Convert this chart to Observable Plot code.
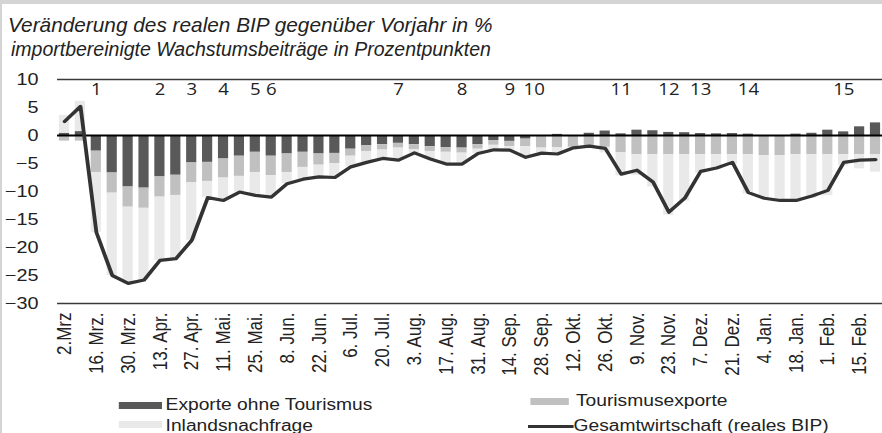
<!DOCTYPE html>
<html><head><meta charset="utf-8">
<script src="https://cdn.jsdelivr.net/npm/d3@7"></script>
<script src="https://cdn.jsdelivr.net/npm/@observablehq/plot@0.6"></script>
<style>
html,body{margin:0;padding:0;background:#fff;}
#wrap{position:relative;width:882px;height:433px;overflow:hidden;background:#fff;font-family:"Liberation Sans",Arial,sans-serif;color:#222;}
#frameTop{position:absolute;left:0;top:0;width:882px;height:4px;background:#d4d4d4}
#frameLeft{position:absolute;left:0;top:0;width:2px;height:433px;background:#d4d4d4}
#title{position:absolute;left:8px;top:13px;font-style:italic;line-height:24px;white-space:nowrap;}
#title .l1{font-size:20.8px}
#title .l2{font-size:19.5px;padding-left:3px}
#chart{position:absolute;left:0;top:66px;width:735px;transform:scaleX(1.2);transform-origin:0 0;}
#legend{position:absolute;left:0;top:0;width:735px;height:433px;transform:scaleX(1.2);transform-origin:0 0;font-size:16px;line-height:20px;pointer-events:none}
#legend div{position:absolute;white-space:nowrap}
</style>
</head><body>
<div id="wrap">
  <div id="frameTop"></div><div id="frameLeft"></div>
  <div id="title"><div class="l1">Veränderung des realen BIP gegenüber Vorjahr in %</div><div class="l2">importbereinigte Wachstumsbeiträge in Prozentpunkten</div></div>
  <div id="chart"></div>
  <div id="legend"></div>
</div>
<script>
const weeks = ["2.Mrz","9. Mrz.","16. Mrz.","23. Mrz.","30. Mrz.","6. Apr.","13. Apr.","20. Apr.","27. Apr.","4. Mai.","11. Mai.","18. Mai.","25. Mai.","1. Jun.","8. Jun.","15. Jun.","22. Jun.","29. Jun.","6. Jul.","13. Jul.","20. Jul.","27. Jul.","3. Aug.","10. Aug.","17. Aug.","24. Aug.","31. Aug.","7. Sep.","14. Sep.","21. Sep.","28. Sep.","5. Okt.","12. Okt.","19. Okt.","26. Okt.","2. Nov.","9. Nov.","16. Nov.","23. Nov.","30. Nov.","7. Dez.","14. Dez.","21. Dez.","28. Dez.","4. Jan.","11. Jan.","18. Jan.","25. Jan.","1. Feb.","8. Feb.","15. Feb.","22. Feb."];

const seriesNames = ["Exporte ohne Tourismus","Tourismusexporte","Inlandsnachfrage"];
const lineName = "Gesamtwirtschaft (reales BIP)";

const exporte = [0.4,0.7,-2.8,-6.7,-9.2,-9.4,-7.4,-7.1,-4.9,-4.8,-4.2,-3.7,-3.0,-3.7,-3.3,-3.0,-3.3,-3.2,-2.45,-1.85,-1.65,-1.4,-1.65,-2.0,-2.15,-2.25,-1.65,-0.95,-1.05,-0.65,0,0.2,0,0.4,0.8,0.3,0.95,0.85,0.55,0.5,0.35,0.3,0.35,0.25,0,0,0.25,0.4,0.95,0.65,1.55,2.25];
const tourismus = [-1.0,-1.0,-3.8,-3.6,-3.6,-3.6,-3.6,-3.6,-3.5,-3.4,-3.4,-3.6,-3.6,-3.5,-3.3,-2.7,-2.0,-1.8,-1.25,-1.0,-0.95,-0.85,-0.85,-0.85,-0.85,-0.9,-0.8,-0.8,-0.95,-1.35,-2.25,-2.15,-2.1,-2.1,-2.1,-3.1,-3.45,-3.45,-3.45,-3.45,-3.45,-3.45,-3.45,-3.45,-3.6,-3.6,-3.45,-3.45,-3.45,-3.45,-3.45,-3.45];
const inland = [3.2,5.4,-10.7,-14.7,-13.7,-12.8,-11.3,-11.3,-10.3,-2.9,-4.0,-2.8,-4.1,-3.8,-2.0,-2.1,-2.1,-2.5,-1.9,-1.95,-1.5,-2.15,-0.6,-1.35,-2.1,-1.95,-0.75,-0.8,-0.6,-1.9,-0.9,-1.35,-0.1,-0.2,-1.0,-4.1,-3.7,-5.75,-10.8,-8.25,-3.3,-2.65,-1.7,-7.0,-7.6,-8.0,-8.4,-7.75,-7.3,-2.0,-2.5,-3.1];
const gesamt = [2.5,5.2,-17.3,-25.0,-26.4,-25.8,-22.3,-22.0,-18.7,-11.1,-11.6,-10.1,-10.7,-11.0,-8.6,-7.8,-7.4,-7.5,-5.6,-4.8,-4.1,-4.4,-3.1,-4.2,-5.1,-5.1,-3.2,-2.55,-2.6,-3.9,-3.15,-3.3,-2.2,-1.9,-2.3,-6.9,-6.2,-8.3,-13.7,-11.2,-6.4,-5.8,-4.8,-10.2,-11.2,-11.6,-11.6,-10.8,-9.8,-4.8,-4.4,-4.3];

const yTicks = [10,5,0,-5,-10,-15,-20,-25,-30];
const eventLabels = ["1","2","3","4","5","6","7","8","9","10","11","12","13","14","15"];
const eventWeeks  = [2,6,8,10,12,13,21,25,28,29,35,38,40,43,49];

const colors = ["#595959","#c0c0c0","#e9e9e9"];
const lineColor = "#333333";

const rows = weeks.flatMap((w,i)=>[
  {week:w, series:seriesNames[0], value:exporte[i]},
  {week:w, series:seriesNames[1], value:tourismus[i]},
  {week:w, series:seriesNames[2], value:inland[i]}
]);
const lineData = weeks.map((w,i)=>({week:w, value:gesamt[i]}));
const events = eventLabels.map((t,k)=>({week:weeks[eventWeeks[k]], label:t}));
const shownWeeks = weeks.filter((d,i)=>i%2===0);

const chart = Plot.plot({
  width:735, height:324,
  marginTop:13, marginBottom:87, marginLeft:47.5, marginRight:0,
  style:{fontFamily:"'Liberation Sans', Arial, sans-serif", color:"#222", background:"transparent", overflow:"visible"},
  x:{type:"band", domain:weeks, paddingInner:0.36, paddingOuter:0.12, round:false, axis:null},
  y:{domain:[-30,10], axis:null},
  color:{domain:seriesNames, range:colors},
  marks:[
    Plot.barY(rows, {x:"week", y:"value", fill:"series", inset:0}),
    Plot.ruleY([10,-30], {stroke:"#3a3a3a", strokeWidth:1.5}),
    Plot.ruleY([0], {stroke:"#000", strokeWidth:2}),
    Plot.line(lineData, {x:"week", y:"value", stroke:lineColor, strokeWidth:3.2, strokeLinejoin:"round"}),
    Plot.text(events.filter(e=>e.label!=="10"), {x:"week", y:8.1, text:"label", fontSize:15.5, fontFamily:"'Open Sans', sans-serif", fill:"#222"}),
    Plot.text(events.filter(e=>e.label==="10"), {x:"week", y:8.1, text:"label", dx:7, fontSize:15.5, fontFamily:"'Open Sans', sans-serif", fill:"#222"}),
    Plot.axisY(yTicks, {tickSize:0, tickPadding:16, fontSize:16.5, label:null}),
    Plot.axisX(shownWeeks, {tickSize:0, tickRotate:-90, tickPadding:9, fontSize:17, label:null})
  ]
});
document.getElementById("chart").appendChild(chart);

// legend (HTML, in chart's stretched coordinates)
const lg = document.getElementById("legend");
function box(l,t,w,h,bg){const d=document.createElement("div");d.style.left=l+"px";d.style.top=t+"px";d.style.width=w+"px";d.style.height=h+"px";d.style.background=bg;lg.appendChild(d);}
function txt(l,t,s){const d=document.createElement("div");d.style.left=l+"px";d.style.top=t+"px";d.textContent=s;lg.appendChild(d);}
box(99,402,36,7,colors[0]); txt(138,394.7,seriesNames[0]);
box(99,421,36,7,colors[2]); txt(138,416.2,seriesNames[2]);
box(442,397.5,31.5,7,colors[1]); txt(480,391.2,seriesNames[1]);
box(440,424.5,37.5,3,lineColor); txt(478,415.7,lineName);
</script>
</body></html>
